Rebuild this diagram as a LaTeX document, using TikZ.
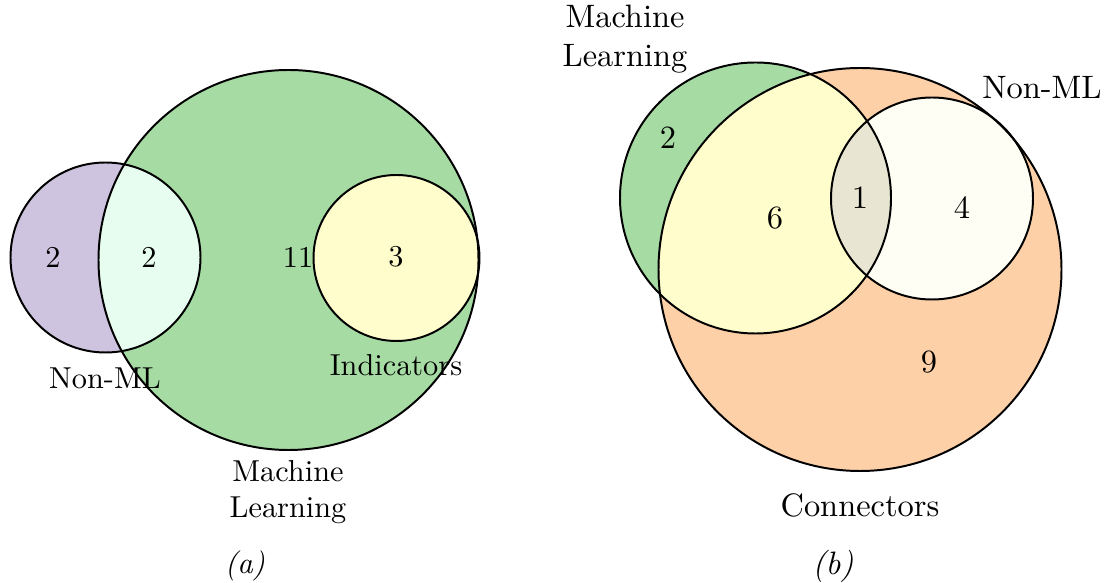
\documentclass[tikz,border=0pt]{standalone}
\definecolor{mlgreen}{RGB}{166,219,164}
\definecolor{nmpurple}{RGB}{207,196,224}
\definecolor{mintc}{RGB}{230,253,240}
\definecolor{indyellow}{RGB}{255,253,204}
\definecolor{conorange}{RGB}{253,208,168}
\definecolor{ivoryc}{RGB}{255,254,244}
\definecolor{greyc}{RGB}{232,230,210}
\tikzset{
  outline/.style={draw=black,line width=0.65pt},
  lbl/.style={inner sep=0pt,font=\normalsize},
  setlbl/.style={inner sep=0pt,align=center,font=\normalsize},
  lblb/.style={inner sep=0pt,font=\fontsize{10.7}{13}\selectfont},
  setlblb/.style={inner sep=0pt,align=center,font=\fontsize{10.7}{13}\selectfont},
}
\begin{document}
\begin{tikzpicture}[x=0.33pt,y=-0.33pt]
\useasboundingbox (0,0) rectangle (1106,583);
% ---------- (a) ----------
\coordinate (cP) at (105.5,257.5);
\coordinate (cG) at (288.5,260);
\coordinate (cY) at (396.5,258);
\fill[mlgreen] (cG) circle (190);
\fill[nmpurple] (cP) circle (95);
\begin{scope}
  \clip (cG) circle (190);
  \fill[mintc] (cP) circle (95);
\end{scope}
\fill[indyellow] (cY) circle (83);
\draw[outline] (cG) circle (190);
\draw[outline] (cP) circle (95);
\draw[outline] (cY) circle (83);
\node[lbl] (a1) at (53,257) {2};
\node[lbl] (a2) at (149,257) {2};
\node[lbl] (a3) at (298,257) {11};
\node[lbl] (a4) at (396,257) {3};
\node[setlbl] (aNM) at (105,378) {Non-ML};
\node[setlbl] (aInd) at (396,365) {Indicators};
\node[setlbl] (aML) at (288,492) {Machine\\Learning};
\node[lbl,font=\normalsize\itshape] (capa) at (245,566) {(a)};
% ---------- (b) ----------
\coordinate (bG) at (755.5,198);
\coordinate (bO) at (860,269.5);
\coordinate (bN) at (932,198.5);
\fill[conorange] (bO) circle (201.5);
\fill[mlgreen] (bG) circle (135.5);
\begin{scope}
  \clip (bO) circle (201.5);
  \fill[indyellow] (bG) circle (135.5);
\end{scope}
\fill[ivoryc] (bN) circle (101);
\begin{scope}
  \clip (bG) circle (135.5);
  \fill[greyc] (bN) circle (101);
\end{scope}
\draw[outline] (bO) circle (201.5);
\draw[outline] (bG) circle (135.5);
\draw[outline] (bN) circle (101);
\node[lblb] (b1) at (668,138) {2};
\node[lblb] (b2) at (775,218) {6};
\node[lblb] (b3) at (860,198) {1};
\node[lblb] (b4) at (962,208) {4};
\node[lblb] (b5) at (929,362) {9};
\node[setlblb] (bML) at (625,39) {Machine\\Learning};
\node[setlblb] (bNM) at (1042,88) {Non-ML};
\node[setlblb] (bCon) at (860,505) {Connectors};
\node[lblb,font=\fontsize{10.7}{13}\selectfont\itshape] (capb) at (833,566) {(b)};
\end{tikzpicture}
\end{document}
